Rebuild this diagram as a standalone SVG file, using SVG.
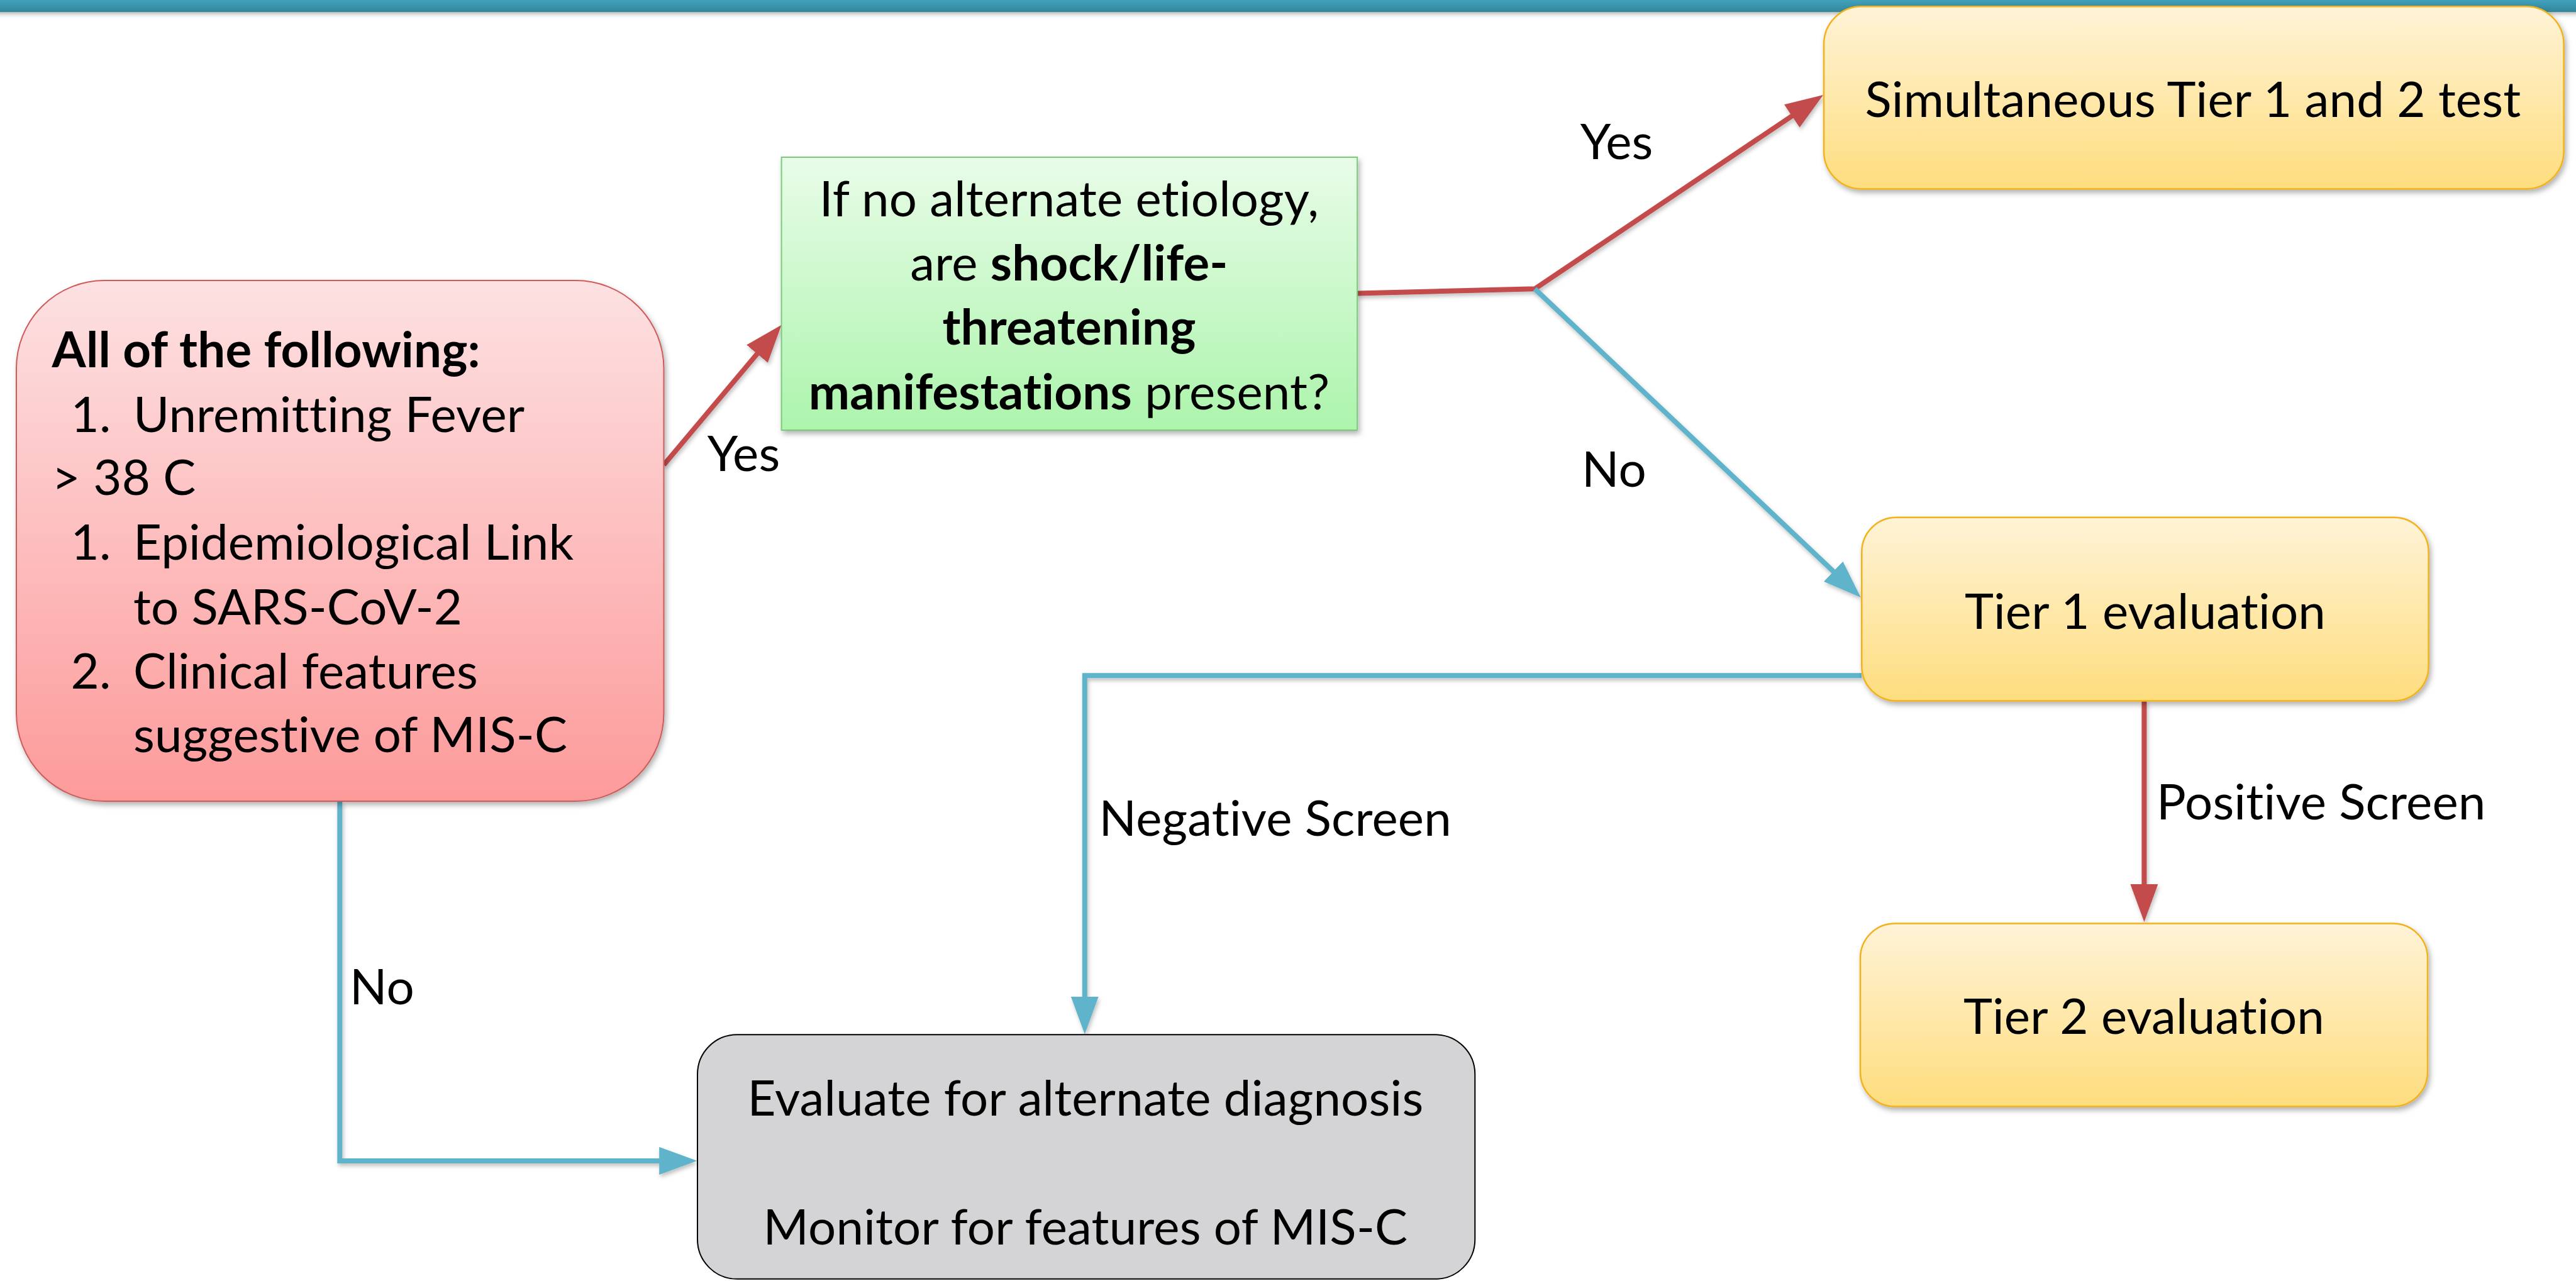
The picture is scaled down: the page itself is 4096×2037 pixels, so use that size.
<svg xmlns="http://www.w3.org/2000/svg" width="4096" height="2037" viewBox="0 0 4096 2037">
<defs>
<linearGradient id="gBar" x1="0" y1="0" x2="0" y2="1"><stop offset="0" stop-color="#41a1bc"/><stop offset="1" stop-color="#33869b"/></linearGradient>
<linearGradient id="gBarSh" x1="0" y1="0" x2="0" y2="1"><stop offset="0" stop-color="#9a9a9a" stop-opacity="0.7"/><stop offset="1" stop-color="#ffffff" stop-opacity="0"/></linearGradient>
<linearGradient id="gRed" x1="0" y1="0" x2="0" y2="1"><stop offset="0" stop-color="#fde1e2"/><stop offset="1" stop-color="#fd9a9a"/></linearGradient>
<linearGradient id="gGreen" x1="0" y1="0" x2="0" y2="1"><stop offset="0" stop-color="#e8fce8"/><stop offset="1" stop-color="#acf4ac"/></linearGradient>
<linearGradient id="gYellow" x1="0" y1="0" x2="0" y2="1"><stop offset="0" stop-color="#fff3d7"/><stop offset="1" stop-color="#fedd7e"/></linearGradient>
<filter id="sh" x="-5%" y="-5%" width="110%" height="115%"><feDropShadow dx="3" dy="5" stdDeviation="4" flood-color="#000" flood-opacity="0.3"/></filter>
<filter id="lsh" filterUnits="userSpaceOnUse" x="0" y="0" width="4096" height="2037"><feDropShadow dx="2" dy="4" stdDeviation="3" flood-color="#000" flood-opacity="0.25"/></filter>
<marker id="aRed" viewBox="0 0 60 44" refX="40" refY="22" markerWidth="60" markerHeight="44" markerUnits="userSpaceOnUse" orient="auto"><path d="M0,0 L60,22 L0,44 z" fill="#c44b4b"/></marker>
<marker id="aBlue" viewBox="0 0 60 44" refX="40" refY="22" markerWidth="60" markerHeight="44" markerUnits="userSpaceOnUse" orient="auto"><path d="M0,0 L60,22 L0,44 z" fill="#5fb3cb"/></marker>
</defs>
<style>
text{font-family:Lato,"Liberation Sans",sans-serif;font-size:78px;fill:#000;font-variant-ligatures:none;font-feature-settings:"liga" 0,"clig" 0,"dlig" 0,"calt" 0;letter-spacing:0.2px}
.b{font-weight:bold}
.c{text-anchor:middle}
.red{fill:none;stroke:#c44b4b;stroke-width:8}
.blue{fill:none;stroke:#5fb3cb;stroke-width:8}
</style>
<rect width="4096" height="2037" fill="#ffffff"/>
<g id="topbar">
<rect x="0" y="19" width="4096" height="12" fill="url(#gBarSh)"/>
<rect x="0" y="0" width="4096" height="19" fill="url(#gBar)"/>
</g>
<g id="connectors">
<line class="red" x1="1055.5" y1="739.3" x2="1229.7" y2="532" marker-end="url(#aRed)" filter="url(#lsh)"/>
<polyline class="red" points="2158,466.4 2440.5,459.3 2882.4,162.2" marker-end="url(#aRed)" filter="url(#lsh)"/>
<line class="blue" x1="2440.5" y1="459.3" x2="2944.2" y2="936.2" marker-end="url(#aBlue)" filter="url(#lsh)"/>
<path class="red" d="M3409.4,1114.4 L3409.4,1446" marker-end="url(#aRed)" filter="url(#lsh)"/>
<polyline class="blue" points="2960,1074.3 1724.8,1074.3 1724.8,1624.6" marker-end="url(#aBlue)" filter="url(#lsh)"/>
<polyline class="blue" points="540.3,1274.9 540.3,1845.9 1088.2,1845.9" marker-end="url(#aBlue)" filter="url(#lsh)"/>
<text x="1124.7" y="748.7">Yes</text>
<text x="2512.8" y="252.5">Yes</text>
<text x="2515" y="774">No</text>
<text x="3429" y="1303.2">Positive Screen</text>
<text x="1747.6" y="1329">Negative Screen</text>
<text x="556" y="1597">No</text>
</g>
<g id="node-criteria">
<rect x="26" y="446" width="1029.5" height="828" rx="140" ry="140" fill="url(#gRed)" stroke="#cf5a5a" stroke-width="2" filter="url(#sh)"/>
<text x="82.6" y="584.4" class="b">All of the following:</text>
<text x="112.5" y="686.6">1.</text><text x="212" y="686.6">Unremitting Fever</text>
<text x="82.6" y="787.3">&gt; 38 C</text>
<text x="112.5" y="889.5">1.</text><text x="212" y="889.5">Epidemiological Link</text>
<text x="212" y="992.5">to SARS-CoV-2</text>
<text x="112.5" y="1094.8">2.</text><text x="212" y="1094.8">Clinical features</text>
<text x="212" y="1195.5">suggestive of MIS-C</text>
</g>
<g id="node-question">
<rect x="1242.6" y="250" width="915.5" height="434" fill="url(#gGreen)" stroke="#7acb7a" stroke-width="2" filter="url(#sh)"/>
<text x="1700" y="343.7" class="c">If no alternate etiology,</text>
<text x="1700" y="446" class="c">are <tspan class="b">shock/life-</tspan></text>
<text x="1700" y="548" class="c b">threatening</text>
<text x="1700" y="651" class="c"><tspan class="b">manifestations</tspan> present?</text>
</g>
<g id="node-simultaneous">
<rect x="2900" y="10.2" width="1176.6" height="290.2" rx="60" ry="60" fill="url(#gYellow)" stroke="#f2b21b" stroke-width="2.5" filter="url(#sh)"/>
<text x="3487" y="186.4" class="c">Simultaneous Tier 1 and 2 test</text>
</g>
<g id="node-tier1">
<rect x="2960.3" y="822.7" width="901.3" height="291.8" rx="55" ry="55" fill="url(#gYellow)" stroke="#f2b21b" stroke-width="2.5" filter="url(#sh)"/>
<text x="3411" y="999.6" class="c">Tier 1 evaluation</text>
</g>
<g id="node-tier2">
<rect x="2958" y="1468.4" width="902" height="291" rx="55" ry="55" fill="url(#gYellow)" stroke="#f2b21b" stroke-width="2.5" filter="url(#sh)"/>
<text x="3409" y="1643.7" class="c">Tier 2 evaluation</text>
</g>
<g id="node-alternate">
<rect x="1109" y="1645.3" width="1236.3" height="388.5" rx="63" ry="63" fill="#d4d4d6" stroke="#000" stroke-width="2"/>
<text x="1726" y="1774.3" class="c">Evaluate for alternate diagnosis</text>
<text x="1726" y="1978.8" class="c">Monitor for features of MIS-C</text>
</g>
</svg>
